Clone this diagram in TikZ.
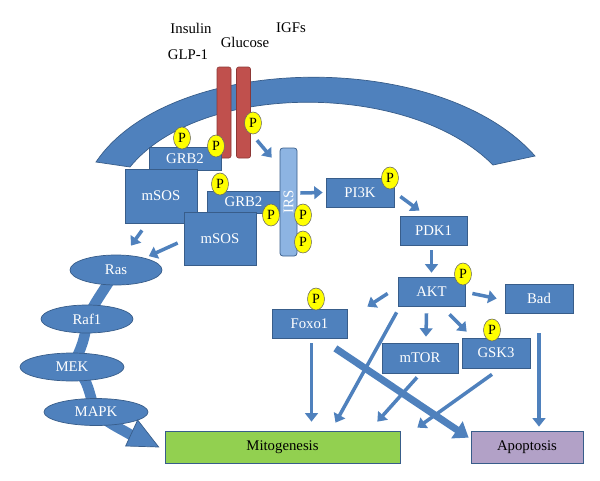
\documentclass[tikz,border=0pt]{standalone}
\usepackage{fontspec}
\setmainfont{Liberation Serif}
\usetikzlibrary{shapes.geometric,arrows.meta,calc,backgrounds}
\definecolor{BoxBlue}{RGB}{79,129,189}
\definecolor{BoxLine}{RGB}{56,93,138}
\definecolor{BarRed}{RGB}{192,80,77}
\definecolor{BarLine}{RGB}{140,56,54}
\definecolor{IrsBlue}{RGB}{141,180,226}
\definecolor{MitoGreen}{RGB}{146,208,80}
\definecolor{ApoPurple}{RGB}{178,161,199}
\definecolor{PYellow}{RGB}{255,255,0}
\newcommand{\pxl}{0.025cm}

\begin{document}
\begin{tikzpicture}[x=\pxl,y=-\pxl,
    every node/.style={font=\fontsize{10.5}{12}\selectfont},
    box/.style={draw=BoxLine,fill=BoxBlue,text=white,inner sep=0pt,line width=0.5pt},
    oval/.style={ellipse,draw=BoxLine,fill=BoxBlue,text=white,inner sep=0pt,line width=0.5pt},
    rbar/.style={draw=BarLine,fill=BarRed,rounded corners=1.5pt,inner sep=0pt,
        minimum width=14*\pxl,minimum height=91*\pxl},
    pball/.style={ellipse,draw=black!60,fill=PYellow,inner sep=0pt,line width=0.4pt,
        minimum width=17*\pxl,minimum height=22*\pxl,font=\fontsize{10}{12}\selectfont},
    arr/.style={draw=BoxBlue,line width=2.5pt,-{Triangle[length=6pt,width=9pt]}},
    fatarr/.style={draw=BoxBlue,line width=5pt,-{Triangle[length=10pt,width=14pt]}}]
    \useasboundingbox (0,0) rectangle (600,481);

    % membrane
    \filldraw[fill=BoxBlue,draw=BoxLine,line width=0.5pt] (96,162) .. controls (170,52) and (440,48) .. (535,156)
        -- (493,165) .. controls (410,81) and (200,81) .. (130,167) -- cycle;

    % ligands
    \node (ins) at (191,28) {Insulin};
    \node (glu) at (245,42) {Glucose};
    \node (igf) at (291,28) {IGFs};
    \node (glp) at (188,55) {GLP-1};

    % receptor
    \node[rbar] (rc1) at (224,112.5) {};
    \node[rbar] (rc2) at (243.5,112.5) {};

    % adaptors
    \node[box,minimum width=72*\pxl,minimum height=23*\pxl] (grb1) at (185,158.5) {GRB2};
    \node[box,minimum width=72*\pxl,minimum height=54*\pxl] (sos1) at (161,196) {mSOS};
    \node[box,minimum width=73*\pxl,minimum height=22*\pxl] (grb2) at (243.5,202) {GRB2};
    \node[box,minimum width=72*\pxl,minimum height=53*\pxl] (sos2) at (220,238.5) {mSOS};
    \node[box,fill=IrsBlue,rounded corners=2pt,minimum width=17*\pxl,minimum height=108*\pxl] (irs) at (288.5,202) {};
    \node[rotate=90,text=white] (irst) at (irs.center) {IRS};

    % kinases
    \node[box,minimum width=68*\pxl,minimum height=29*\pxl] (pik) at (360,192.5) {PI3K};
    \node[box,minimum width=67*\pxl,minimum height=29*\pxl] (pdk) at (433.5,230.5) {PDK1};
    \node[box,minimum width=67*\pxl,minimum height=29*\pxl] (akt) at (431.5,291.5) {AKT};
    \node[box,minimum width=68*\pxl,minimum height=29*\pxl] (bad) at (539,298.5) {Bad};
    \node[box,minimum width=75*\pxl,minimum height=29*\pxl] (foxo) at (309.5,323.5) {Foxo1};
    \node[box,minimum width=76*\pxl,minimum height=30*\pxl] (mtor) at (420,358) {mTOR};
    \node[box,minimum width=68*\pxl,minimum height=30*\pxl] (gsk) at (496,353) {GSK3};

    % MAPK cascade
    \node[oval,minimum width=92*\pxl,minimum height=30*\pxl] (ras) at (116,270) {Ras};
    \node[oval,minimum width=92*\pxl,minimum height=28*\pxl] (raf) at (87,319) {Raf1};
    \node[oval,minimum width=104*\pxl,minimum height=28*\pxl] (mek) at (72,367) {MEK};
    \node[oval,minimum width=104*\pxl,minimum height=27*\pxl] (mapk) at (96,412) {MAPK};

    % outcomes
    \node[box,fill=MitoGreen,text=black,minimum width=235*\pxl,minimum height=32*\pxl] (mito) at (282.5,447) {Mitogenesis};
    \node[box,fill=ApoPurple,text=black,minimum width=112*\pxl,minimum height=32*\pxl] (apop) at (527,447) {Apoptosis};

    \begin{scope}[on background layer]
        \draw[BoxBlue,line width=7.5pt] (ras.center) .. controls ($(ras.center)+(-10,18)$) and ($(raf.center)+(8,-18)$) .. (raf.center)
            .. controls ($(raf.center)+(-2,20)$) and ($(mek.center)+(10,-20)$) .. (mek.center)
            .. controls ($(mek.center)+(18,11)$) and ($(mapk.center)+(-8,-18)$) .. (mapk.center)
            .. controls ($(mapk.center)+(12,12)$) and ($(mapk.center)+(28,18)$) .. ($(mapk.center)+(40,26)$);
    \end{scope}
    \filldraw[fill=BoxBlue,draw=BoxLine,line width=0.5pt] ($(mito.west)+(-27,-27)$) -- ($(mito.west)+(-6,0)$) -- ($(mito.west)+(-39,-1)$) -- cycle;

    % phosphates
    \node[pball] (p1) at (182,138) {P};
    \node[pball] (p2) at (216,146) {P};
    \node[pball] (p3) at (253,123) {P};
    \node[pball] (p4) at (220,184) {P};
    \node[pball] (p5) at (271,215) {P};
    \node[pball] (p6) at (303,215) {P};
    \node[pball] (p7) at (303,242) {P};
    \node[pball] (p8) at (390,178) {P};
    \node[pball] (p9) at (463,274) {P};
    \node[pball] (p10) at (316,299) {P};
    \node[pball] (p11) at (492,330) {P};

    % signalling
    \draw[arr] ($(p3.south)+(4,6)$) -- ($(irs.north west)+(-8,10)$);
    \draw[arr] ($(irs.east)+(3,-9)$) -- ($(pik.west)+(-3,0)$);
    \draw[arr] ($(pik.east)+(6,4)$) -- ($(pdk.north)+(-14,-5)$);
    \draw[arr] ($(pdk.south)+(-2,5)$) -- ($(akt.north)+(0,-4)$);
    \draw[arr] ($(akt.west)+(-10,2)$) -- ($(foxo.north east)+(20,-2)$);
    \draw[arr] ($(akt.east)+(7,2)$) -- ($(bad.west)+(-8,0)$);
    \draw[arr] ($(akt.south)+(-5,7)$) -- ($(mtor.north)+(6,-6)$);
    \draw[arr] ($(akt.south)+(18,8)$) -- ($(gsk.north west)+(5,-6)$);
    \draw[arr] ($(sos1.south)+(-19,7)$) -- ($(ras.north)+(15,-9)$);
    \draw[arr] ($(sos2.west)+(-6,4.5)$) -- ($(ras.north east)+(0,-3)$);

    \draw[arr] ($(foxo.south)+(2,5)$) -- ($(foxo.south |- mito.north)+(2,-9)$);
    \draw[arr] ($(akt.south west)+(-1,6)$) -- ($(mito.north)+(53,-8)$);
    \draw[arr] ($(mtor.south)+(-3,4)$) -- ($(mito.north east)+(-23,-9)$);
    \draw[fatarr] ($(foxo.south east)+(-12,10)$) -- ($(apop.north west)+(-2,7)$);
    \draw[arr] ($(gsk.south)+(-4,6)$) -- ($(mito.north east)+(17,-3)$);
    \draw[arr] ($(bad.south)+(0,20)$) -- ($(bad.south |- apop.north)+(0,-4)$);
\end{tikzpicture}
\end{document}
